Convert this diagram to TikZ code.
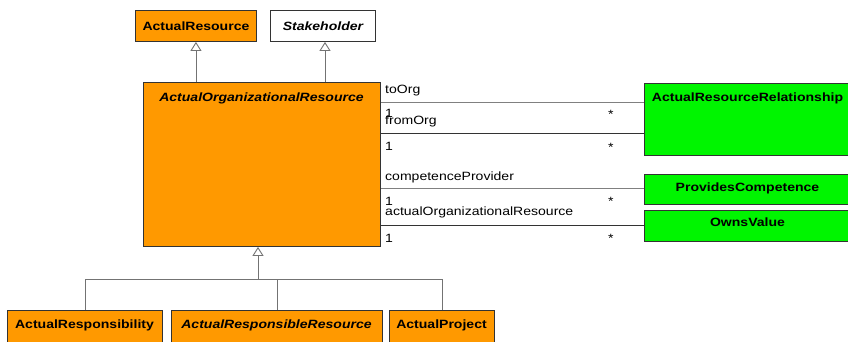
\documentclass[tikz,border=0pt]{standalone}
\usepackage{fontspec}
\setmainfont{Liberation Sans}[FakeStretch=1.17]
\usetikzlibrary{arrows.meta}
\definecolor{umlorange}{RGB}{255,153,0}
\definecolor{umlgreen}{RGB}{0,245,0}
\begin{document}
\begin{tikzpicture}[x=1pt,y=-1pt,
  box/.style={draw=black!80, line width=0.9pt, inner sep=0pt, anchor=north west},
  obox/.style={box, fill=umlorange},
  gbox/.style={box, fill=umlgreen},
  wbox/.style={box, fill=white},
  btext/.style={font=\fontsize{12}{14}\selectfont\bfseries, inner sep=0pt},
  bitext/.style={font=\fontsize{12}{14}\selectfont\bfseries\itshape, inner sep=0pt},
  lbl/.style={font=\fontsize{12}{14}\selectfont, inner sep=0pt, anchor=base west},
  genline/.style={draw=black!55, line width=0.9pt},
  gentip/.style={genline, -{Triangle[open, length=9pt, width=11pt, fill=white]}},
  assocA/.style={draw=black!50, line width=0.9pt},
  assocB/.style={draw=black!80, line width=0.9pt}]
\useasboundingbox (0,0) rectangle (848,341);
% top boxes
\node[obox, minimum width=121pt, minimum height=31pt] (ar) at (135,10) {};
\node[btext] (arT) at (ar.center) {ActualResource};
\node[wbox, minimum width=105pt, minimum height=31pt] (sh) at (270,10) {};
\node[bitext] (shT) at (sh.center) {Stakeholder};
% main box
\node[obox, minimum width=237pt, minimum height=164pt] (main) at (143,82) {};
\node[bitext, anchor=base] (mainT) at (261.5,101) {ActualOrganizationalResource};
% green boxes
\node[gbox, minimum width=207pt, minimum height=72pt] (arr) at (644,83) {};
\node[btext, anchor=base] (arrT) at (747.5,101) {ActualResourceRelationship};
\node[gbox, minimum width=207pt, minimum height=30pt] (pc) at (644,174) {};
\node[btext, anchor=base] (pcT) at (747.5,191.5) {ProvidesCompetence};
\node[gbox, minimum width=207pt, minimum height=31pt] (ov) at (644,210) {};
\node[btext, anchor=base] (ovT) at (747.5,226.5) {OwnsValue};
% bottom boxes
\node[obox, minimum width=155pt, minimum height=40pt] (resp) at (7,310) {};
\node[btext, anchor=base] (respT) at (84.5,328) {ActualResponsibility};
\node[obox, minimum width=211pt, minimum height=40pt] (rr) at (171,310) {};
\node[bitext, anchor=base] (rrT) at (276.5,328) {ActualResponsibleResource};
\node[obox, minimum width=105pt, minimum height=40pt] (proj) at (389,310) {};
\node[btext, anchor=base] (projT) at (441.5,328) {ActualProject};
% generalizations up
\draw[gentip] (main.north -| ar.south) -- (ar.south);
\draw[gentip] (main.north -| 325,0) -- (sh.south -| 325,0);
% generalizations from below
\coordinate (j) at (258,279);
\draw[genline] (resp.north) |- (j);
\draw[genline] (proj.north) |- (j);
\draw[genline] (rr.north) -- (rr.north |- j);
\draw[gentip] (j) -- (main.south -| j);
% associations
\coordinate (c1) at (0,102);
\coordinate (c2) at (0,133);
\coordinate (c3) at (0,188);
\coordinate (c4) at (0,225);
\draw[assocA] (main.east |- c1) -- (arr.west |- c1);
\draw[assocB] (main.east |- c2) -- (arr.west |- c2);
\draw[assocA] (main.east |- c3) -- (pc.west |- c3);
\draw[assocB] (main.east |- c4) -- (ov.west |- c4);
% labels
\node[lbl] (l1) at (385,93) {toOrg};
\node[lbl] (m1a) at (385,117) {1};
\node[lbl] (m1b) at (608,118) {*};
\node[lbl] (l2) at (385,124) {fromOrg};
\node[lbl] (m2a) at (385,150) {1};
\node[lbl] (m2b) at (608,151) {*};
\node[lbl] (l3) at (385,180) {competenceProvider};
\node[lbl] (m3a) at (385,205) {1};
\node[lbl] (m3b) at (608,205) {*};
\node[lbl] (l4) at (385,215) {actualOrganizationalResource};
\node[lbl] (m4a) at (385,242) {1};
\node[lbl] (m4b) at (608,242) {*};
\end{tikzpicture}
\end{document}
